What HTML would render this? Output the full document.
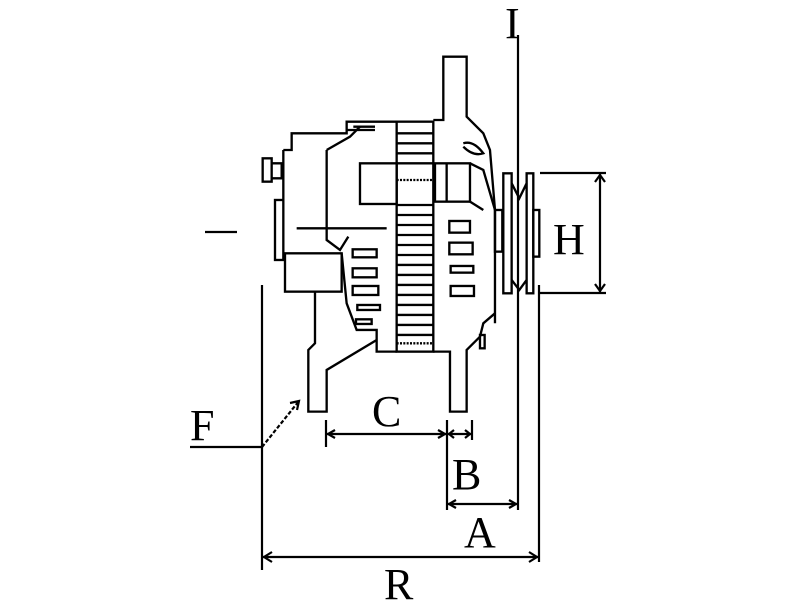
<!DOCTYPE html>
<html><head><style>html,body{margin:0;padding:0;background:#fff;width:800px;height:600px;overflow:hidden}
svg{display:block}
text{font-family:"Liberation Serif",serif;fill:#000}
</style></head><body>
<svg width="800" height="600" viewBox="0 0 800 600" xmlns="http://www.w3.org/2000/svg">
<rect width="800" height="600" fill="#fff"/>
<g fill="none" stroke="#000" stroke-width="2.2">
<line x1="262" y1="285" x2="262" y2="570"/>
<line x1="539" y1="285" x2="539" y2="562"/>
<line x1="262" y1="557" x2="539" y2="557"/>
<path d="M272 552 L264 557 L272 562 M529 552 L537 557 L529 562"/>
<line x1="518" y1="35" x2="518" y2="510"/>
<line x1="447" y1="420" x2="447" y2="510"/>
<line x1="447" y1="504" x2="518" y2="504"/>
<path d="M456 500 L449 504 L456 508 M509 500 L516 504 L509 508"/>
<line x1="326" y1="420" x2="326" y2="447"/>
<line x1="472" y1="420" x2="472" y2="440"/>
<line x1="326" y1="434" x2="472" y2="434"/>
<path d="M335 430 L328 434 L335 438 M438 430 L445 434 L438 438 M454 430 L449 434 L454 438 M465 430 L470 434 L465 438"/>
<line x1="190" y1="447" x2="262" y2="447"/>
<line x1="262" y1="447" x2="299" y2="401" stroke-dasharray="4 2"/>
<path d="M290 403 L299 401 L297 410"/>
<line x1="205" y1="232" x2="237" y2="232"/>
<line x1="540" y1="173" x2="606" y2="173"/>
<line x1="540" y1="293" x2="606" y2="293"/>
<line x1="600" y1="173" x2="600" y2="293"/>
<path d="M595 182 L600 175 L605 182 M595 284 L600 291 L605 284"/>
</g>
<g transform="translate(250,50) scale(0.3333)" fill="none" stroke="#000" stroke-width="7">
<rect x="38" y="325" width="27" height="70"/>
<path d="M65 340 H95 V385 H65"/>
<path d="M100 300 H125 V250 H290 V215 H440"/>
<path d="M290 240 H375 M310 230 H375"/>
<path d="M100 300 V450"/>
<rect x="75" y="450" width="25" height="180"/>
<rect x="105" y="610" width="170" height="115"/>
<line x1="140" y1="535" x2="410" y2="535"/>
<path d="M230 300 V570 L270 600 L295 560 M230 300 L300 260 L330 230"/>
<path d="M195 725 V880 L175 900 V1085 H230 V960 L380 870"/>
<path d="M275 610 L290 760 L320 840 H380 V905 H440"/>
<rect x="330" y="340" width="110" height="122"/>
<rect x="440" y="215" width="110" height="690"/>
<path d="M440 250 H550 M440 280 H550 M440 310 H550 M440 340 H550 M440 465 H550 M440 495 H550 M440 525 H550 M440 555 H550 M440 585 H550 M440 615 H550 M440 645 H550 M440 675 H550 M440 705 H550 M440 735 H550 M440 765 H550 M440 795 H550 M440 825 H550 M440 855 H550"/>
<path d="M440 390 H550" stroke-dasharray="6 4"/>
<path d="M440 880 H550" stroke-dasharray="6 4"/>
<path d="M550 210 H580 V20 H650 V200 L700 250 L720 300 L735 480 V820"/>
<path d="M550 905 H600 V1085 H650 V900 L690 860 L700 820 L735 790"/>
<rect x="555" y="340" width="105" height="115"/>
<line x1="590" y1="340" x2="590" y2="455"/>
<path d="M660 340 L700 360 L735 480 M660 455 L700 480"/>
<path d="M640 280 Q670 270 700 310 Q670 320 640 290"/>
<rect x="598" y="513" width="62" height="35"/>
<rect x="598" y="578" width="70" height="35"/>
<rect x="602" y="648" width="68" height="20"/>
<rect x="602" y="708" width="70" height="30"/>
<rect x="308" y="598" width="72" height="24"/>
<rect x="308" y="655" width="72" height="27"/>
<rect x="308" y="708" width="77" height="27"/>
<rect x="322" y="765" width="68" height="15"/>
<rect x="318" y="808" width="47" height="14"/>
<rect x="690" y="855" width="14" height="40"/>
<rect x="735" y="480" width="22" height="125"/>
<rect x="760" y="370" width="25" height="360"/>
<rect x="830" y="370" width="20" height="360"/>
<path d="M785 400 L808 445 L830 400 M785 690 L808 720 L830 690"/>
<rect x="850" y="480" width="18" height="140"/>
</g>
<g font-size="44">
<text x="505" y="38">I</text>
<text x="553" y="254">H</text>
<text x="372" y="426">C</text>
<text x="452" y="489">B</text>
<text x="464" y="547">A</text>
<text x="384" y="599">R</text>
<text x="190" y="440">F</text>
</g>
</svg>
</body></html>
